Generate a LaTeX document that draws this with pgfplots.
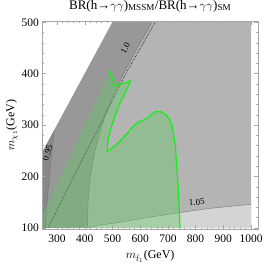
\documentclass[border=0pt]{standalone}
\usepackage{pgfplots}
\pgfplotsset{compat=1.18}
\usepackage{fontspec}
\setmainfont{Liberation Serif}
\definecolor{gmed}{RGB}{180,180,180}
\definecolor{gdark}{RGB}{152,152,152}
\definecolor{gdarkest}{RGB}{136,136,136}
\definecolor{glight}{RGB}{212,212,212}
\definecolor{gfill}{RGB}{100,200,100}
\definecolor{gline}{RGB}{20,240,20}
\definecolor{cline}{RGB}{115,115,115}
\begin{document}
\begin{tikzpicture}
\path[use as bounding box] (-42.3pt,-38.5pt) rectangle (223.7pt,229.5pt);
\begin{axis}[
  scale only axis, width=215.7pt, height=208.8pt,
  xmin=247, xmax=1025, ymin=97, ymax=503,
  xtick={300,400,...,1000}, ytick={100,200,...,500},
  minor x tick num=4, minor y tick num=4,
  tick align=inside,
  major tick length=4pt, minor tick length=2pt,
  axis line style={gray!70},
  every tick/.style={gray!70, line width=0.4pt},
  tick label style={font=\fontsize{11.5}{13}\selectfont},
  /pgf/number format/assume math mode=true,
  /pgf/number format/set thousands separator={},
  xticklabel style={anchor=base, yshift=-13pt},
  title={BR(h→$\gamma\gamma$)\textsubscript{MSSM}/BR(h→$\gamma\gamma$)\textsubscript{SM}},
  title style={at={(axis description cs:0.5,1.027)}, anchor=base, font=\fontsize{13}{15}\selectfont},
  xlabel={$m_{\tilde t_1}$(GeV)},
  xlabel style={at={(axis description cs:0.5,-0.141)}, anchor=base, font=\fontsize{12}{14}\selectfont},
  ylabel={$m_{\chi_1}$(GeV)},
  ylabel style={at={(axis description cs:-0.13,0.5)}, anchor=base, font=\fontsize{12}{14}\selectfont},
  axis on top,
]
% base medium gray
\addplot[draw=none, fill=gmed] coordinates {(250,100) (250,250) (500,500) (1000,500) (1000,100)} -- cycle;
% light region below 1.05 contour
\addplot[draw=none, fill=glight] coordinates {(410,100) (450,105) (527,111) (600,118) (744,130) (850,138) (1000,146) (1000,100)} -- cycle;
% dark band between m_chi = m_stop and 1.0 contour
\addplot[draw=none, fill=gdark] coordinates {(250,250) (500,500) (643,500) (590,450) (540,400) (497,350) (462,300) (437,250) (420,200) (412,150) (410,100) (250,100)} -- cycle;
% darkest sliver below 0.95
\addplot[draw=none, fill=gdarkest] coordinates {(250,100) (258,100) (267,170) (278,230) (290,290) (250,250)} -- cycle;
% contour lines
\addplot[cline, line width=0.4pt] coordinates {(410,100) (450,105) (527,111) (600,118) (744,130) (850,138) (1000,146)};
\addplot[cline, line width=0.4pt] coordinates {(643,500) (590,450) (540,400) (497,350) (462,300) (437,250) (420,200) (412,150) (410,100)};
\addplot[cline, line width=0.4pt] coordinates {(258,100) (267,170) (278,230) (290,290)};
% dotted line
\addplot[black, densely dotted, line width=0.6pt] coordinates {(268,100) (360,200) (455,300) (548,400) (654,500)};
% green region
\addplot[draw=none, fill=gfill, fill opacity=0.4] coordinates {
 (744,100) (741,130) (740,153) (736,190) (732,218) (727,260) (720,283) (716,297) (705,312) (696,319) (675,326) (654,326) (640,320) (624,313) (605,308) (588,304) (570,295) (552,283) (520,265) (481,248)
 (485,275) (497,298) (510,318) (527,343) (545,362) (566,386) (509,376) (491,405)
 (383,280) (250,128) (250,100)} -- cycle;
% green line
\addplot[gline, line width=1.2pt, line join=round] coordinates {
 (744,100) (741,130) (740,153) (736,190) (732,218) (727,260) (720,283) (716,297) (705,312) (696,319) (675,326) (654,326) (640,320) (624,313) (605,308) (588,304) (570,295) (552,283) (520,265) (481,248)
 (485,275) (497,298) (510,318) (527,343) (545,362) (566,386) (509,376) (491,405)};
% contour labels
\node[font=\fontsize{9}{10}\selectfont, rotate=63] at (axis cs:546,450) {1.0};
\node[font=\fontsize{9}{10}\selectfont, rotate=72] at (axis cs:266,246) {0.95};
\node[font=\fontsize{9}{10}\selectfont, rotate=4] at (axis cs:804,150) {1.05};
\end{axis}
\end{tikzpicture}
\end{document}
